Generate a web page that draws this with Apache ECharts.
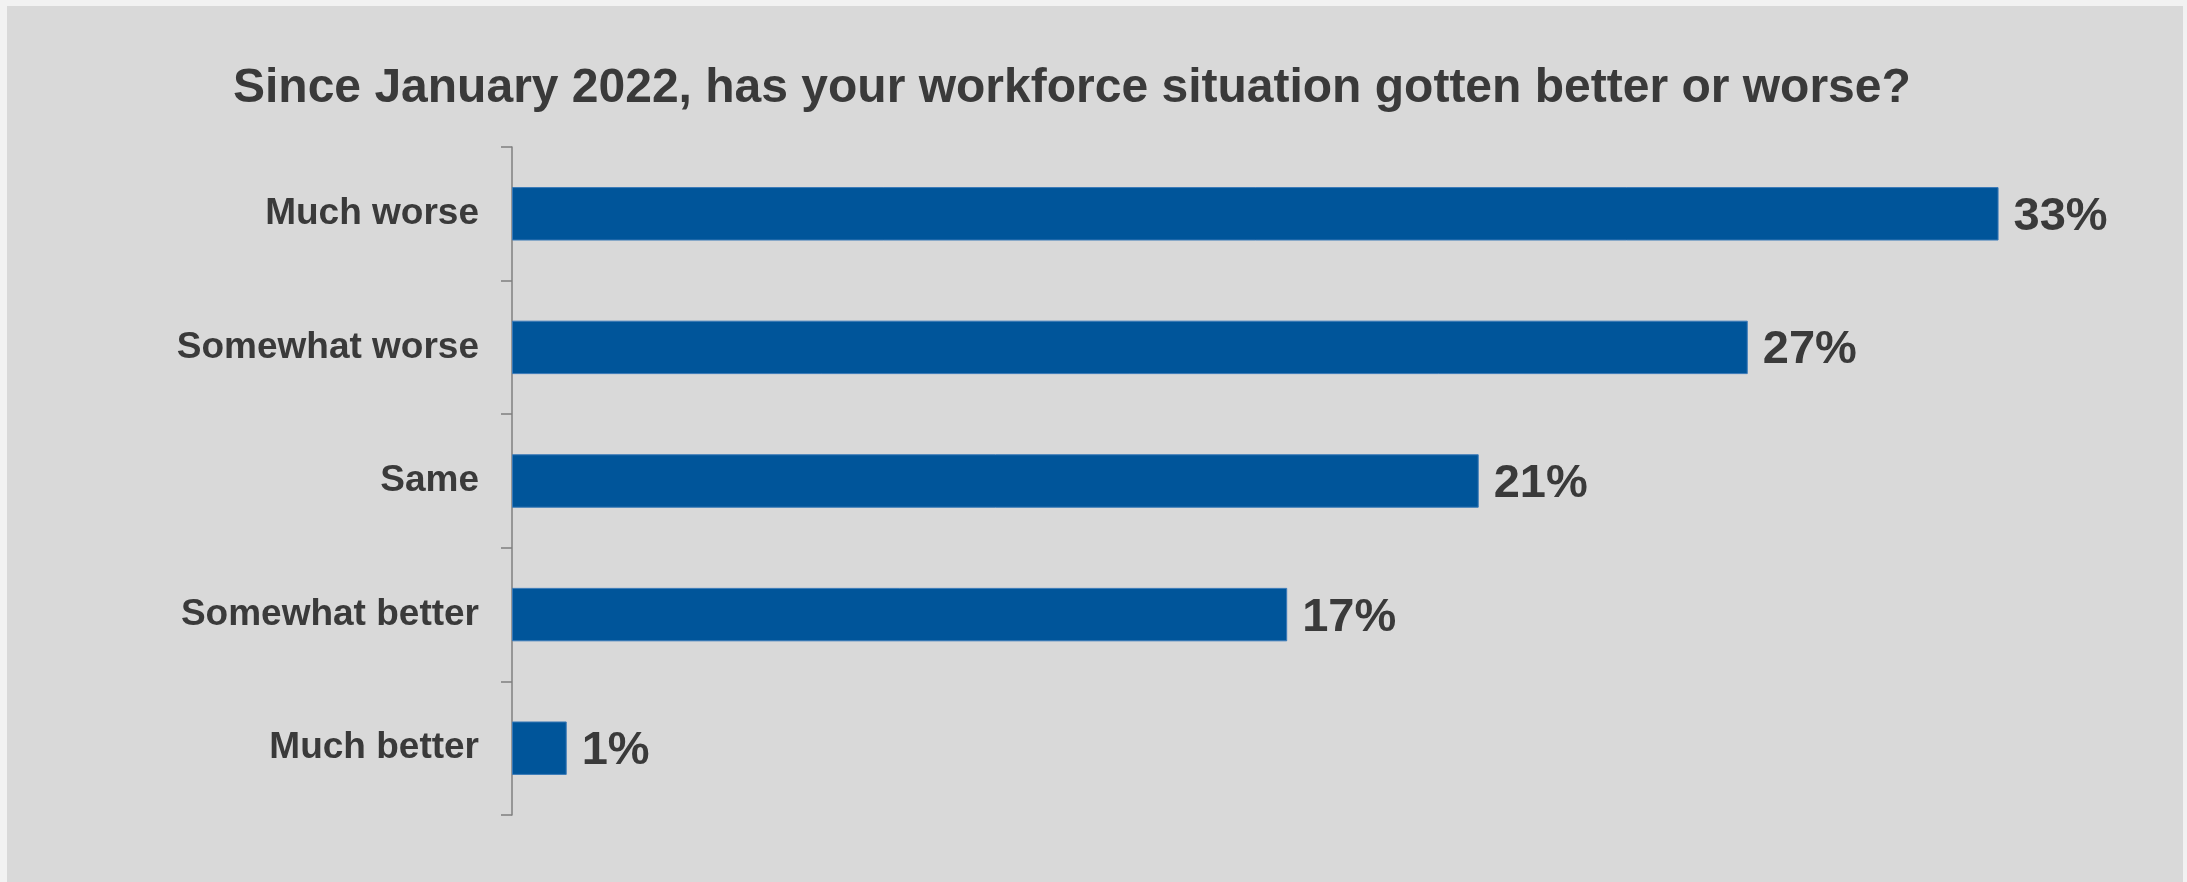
<!DOCTYPE html>
<html>
<head>
<meta charset="utf-8">
<title>Workforce situation since January 2022</title>
<script src="https://cdn.jsdelivr.net/npm/echarts@6.0.0/dist/echarts.min.js"></script>
<style>
  html, body { margin: 0; padding: 0; background: #f2f2f2; }
  #chart { width: 2187px; height: 882px; }
</style>
</head>
<body>
<div id="chart"></div>
<script>
// survey answers, top to bottom
const categories = ['Much worse', 'Somewhat worse', 'Same', 'Somewhat better', 'Much better']
// share of respondents (%); labels show them rounded
const values = [32.6, 27.1, 21.2, 17.0, 1.2]

const titleText = 'Since January 2022, has your workforce situation gotten better or worse?'
const textColor = '#3a3a3a'
const axisColor = '#7f7f7f'
const font = '"Liberation Sans", Arial, sans-serif'

const chart = echarts.init(document.getElementById('chart'))

chart.setOption({
  backgroundColor: '#f2f2f2',
  animation: false,
  // grey panel behind the chart
  graphic: [{
    type: 'rect',
    z: -10,
    silent: true,
    shape: { x: 7, y: 6, width: 2176, height: 876 },
    style: { fill: '#d9d9d9' }
  }],
  title: {
    text: titleText,
    left: 233,
    top: 65,
    padding: 0,
    textStyle: {
      fontFamily: font,
      fontSize: 48,
      fontWeight: 'bold',
      color: textColor
    }
  },
  grid: { top: 147, bottom: 67, left: 512, right: 79, outerBoundsMode: 'none' },
  xAxis: {
    type: 'value',
    min: 0,
    max: 35,
    show: false
  },
  yAxis: {
    type: 'category',
    data: categories,
    inverse: true,
    axisLine: { show: true, lineStyle: { color: axisColor, width: 1.5 } },
    axisTick: { show: true, inside: false, length: 11, lineStyle: { color: axisColor, width: 1.5 } },
    axisLabel: {
      margin: 33,
      fontFamily: font,
      fontSize: 37,
      fontWeight: 'bold',
      color: textColor
    },
    splitLine: { show: false }
  },
  series: [{
    type: 'bar',
    data: values,
    barCategoryGap: '60%',
    itemStyle: {
      color: '#00559a',
      borderColor: '#3a7ab8',
      borderWidth: 1
    },
    label: {
      show: true,
      position: 'right',
      distance: 15,
      offset: [0, 3],
      formatter: (p) => Math.round(p.value) + '%',
      fontFamily: font,
      fontSize: 47,
      fontWeight: 'bold',
      color: textColor
    }
  }]
})

window.addEventListener('resize', () => chart.resize())
</script>
</body>
</html>
